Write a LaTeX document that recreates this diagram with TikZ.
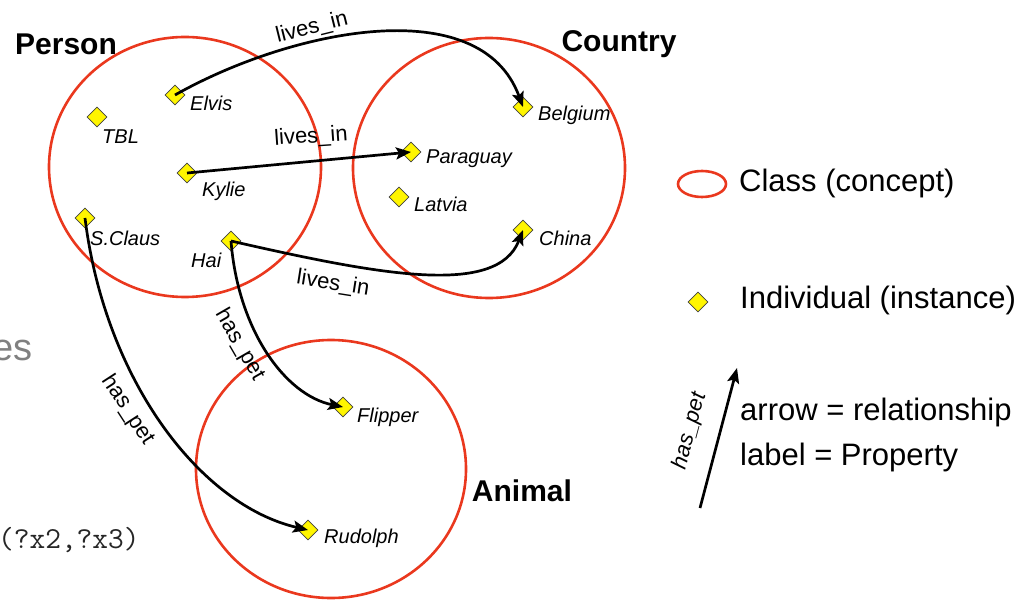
\documentclass[tikz,border=0pt]{standalone}
\usepackage{fontspec}
\setmainfont{Liberation Sans}
\usetikzlibrary{shapes.geometric,arrows.meta}
\definecolor{classred}{RGB}{234,56,30}
\definecolor{indyellow}{RGB}{255,245,0}
\tikzset{
 classcirc/.style={draw=classred, line width=2.6pt},
 indiv/.style={diamond, draw=black!75, line width=0.8pt, fill=indyellow, minimum size=20pt, inner sep=0pt},
 indlabel/.style={anchor=west, inner sep=0pt, font=\fontsize{20}{20}\selectfont\itshape},
 classlabel/.style={inner sep=0pt, font=\fontsize{30}{30}\selectfont\bfseries},
 rel/.style={line width=2.7pt, -{Stealth[length=15pt,width=12pt,inset=3pt]}},
 rellabel/.style={inner sep=0pt, font=\fontsize{22}{22}\selectfont},
 legendtext/.style={anchor=west, inner sep=0pt, font=\fontsize{31}{31}\selectfont},
}
\begin{document}
\begin{tikzpicture}[x=1pt,y=-1pt]
\useasboundingbox (0,0) rectangle (1024,601);
% slide fragments
\node[anchor=base east, inner sep=0pt, text=black!50, font=\fontsize{38}{38}\selectfont] (frag1) at (33,360) {es};
\node[anchor=base west, inner sep=0pt, text=black!85, font=\fontsize{30.5}{30.5}\selectfont\ttfamily] (frag2) at (-2,548) {(?x2,?x3)};
% classes
\draw[classcirc] (185,167) ellipse [x radius=136pt, y radius=130pt];
\draw[classcirc] (489,168) ellipse [x radius=136pt, y radius=130pt];
\draw[classcirc] (331,469) ellipse [x radius=135pt, y radius=129pt];
\node[classlabel] (person) at (66,44) {Person};
\node[classlabel] (country) at (619,44) {Country};
\node[classlabel] (animal) at (522,491) {Animal};
% individuals
\node[indiv] (elvis) at (175,95) {};
\node[indiv] (tbl) at (97,117) {};
\node[indiv] (kylie) at (187,173) {};
\node[indiv] (sclaus) at (85,218) {};
\node[indiv] (hai) at (231,241) {};
\node[indiv] (belgium) at (523,107) {};
\node[indiv] (paraguay) at (411,152) {};
\node[indiv] (latvia) at (399,197) {};
\node[indiv] (china) at (523,230) {};
\node[indiv] (flipper) at (343,407) {};
\node[indiv] (rudolph) at (308,530) {};
\node[indlabel] (lelvis) at (190,103) {Elvis};
\node[indlabel] (ltbl) at (102,137) {TBL};
\node[indlabel] (lkylie) at (202,191) {Kylie};
\node[indlabel] (lsclaus) at (90,238) {S.Claus};
\node[indlabel] (lhai) at (191,260) {Hai};
\node[indlabel] (lbelgium) at (538,115) {Belgium};
\node[indlabel] (lparaguay) at (426,159) {Paraguay};
\node[indlabel] (llatvia) at (414,204) {Latvia};
\node[indlabel] (lchina) at (539,238) {China};
\node[indlabel] (lflipper) at (357,417) {Flipper};
\node[indlabel] (lrudolph) at (324,538) {Rudolph};
% relationships
\draw[rel] (elvis.center) .. controls (290,30) and (480,-10) .. (belgium.center);
\draw[rel] (kylie.center) -- (paraguay.center);
\draw[rel] (hai.center) .. controls (380,275) and (497,297) .. (china.center);
\draw[rel] (hai.center) .. controls (238,330) and (285,395) .. (flipper.center);
\draw[rel] (sclaus.center) .. controls (105,380) and (200,505) .. (rudolph.center);
\node[rellabel, rotate=14] (r1) at (312,28) {lives\_in};
\node[rellabel, rotate=4] (r2) at (311,137) {lives\_in};
\node[rellabel, rotate=-9] (r3) at (333,284) {lives\_in};
\node[rellabel, rotate=-60] (r4) at (240,345) {has\_pet};
\node[rellabel, rotate=-57] (r5) at (128,410) {has\_pet};
% legend
\draw[classcirc] (702,184) ellipse [x radius=24pt, y radius=13pt];
\node[legendtext] (lclass) at (739,183) {Class (concept)};
\node[indiv] (lind) at (698,302) {};
\node[legendtext] (lindt) at (740,300) {Individual (instance)};
\coordinate (la0) at (700,508);
\coordinate (la1) at (737,368);
\draw[rel] (la0) -- (la1);
\node[rellabel, rotate=75, font=\fontsize{22}{22}\selectfont\itshape] (lhp) at (690,431) {has\_pet};
\node[legendtext] (larrow) at (740,412) {arrow = relationship};
\node[legendtext] (llabel) at (740,457) {label = Property};
\end{tikzpicture}
\end{document}
